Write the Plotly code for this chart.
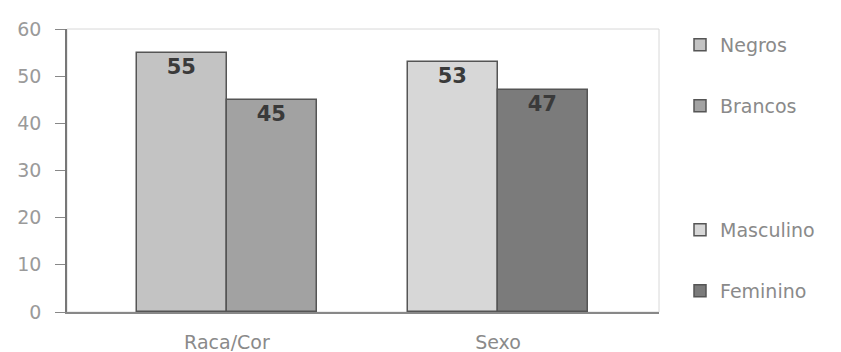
import plotly.graph_objects as go

categories = ["Raca/Cor", "Sexo"]
series_names = ["Negros", "Brancos", "Masculino", "Feminino"]
series_values = [55, 45, 53, 47]
series_category = ["Raca/Cor", "Raca/Cor", "Sexo", "Sexo"]
series_colors = ["#c3c3c3", "#a2a2a2", "#d7d7d7", "#7b7b7b"]
series_offset_side = [-1, 0, -1, 0]
y_ticks = [0, 10, 20, 30, 40, 50, 60]

BAR_W = 0.332
legend_centers_px = [45, 106, 230, 291]
legend_ids = ["legend", "legend2", "legend3", "legend4"]
FONT = "DejaVu Sans, Arial"

fig = go.Figure()
for i, name in enumerate(series_names):
    fig.add_trace(go.Bar(
        x=[categories.index(series_category[i])],
        y=[series_values[i]],
        name=name,
        width=BAR_W,
        offset=series_offset_side[i] * BAR_W,
        marker=dict(color=series_colors[i], line=dict(color="#555555", width=1.5)),
        text=[f"<b>{series_values[i]}</b>"],
        textposition="inside",
        insidetextanchor="end",
        textfont=dict(family=FONT, size=21, color="#3a3a3a"),
        legend=legend_ids[i],
        showlegend=True,
    ))

layout_legends = {}
for i, lid in enumerate(legend_ids):
    layout_legends[lid] = dict(
        xref="container", yref="container",
        x=680 / 841, y=1 - legend_centers_px[i] / 352,
        xanchor="left", yanchor="middle",
        bgcolor="rgba(0,0,0,0)",
        font=dict(family=FONT, size=19, color="#8a8a8a"),
    )

fig.update_layout(
    width=841, height=352,
    margin=dict(l=67, r=182, t=29, b=40, autoexpand=False),
    paper_bgcolor="white", plot_bgcolor="white",
    barmode="overlay",
    bargap=0,
    font=dict(family=FONT, color="#999999", size=19),
    xaxis=dict(
        tickmode="array", tickvals=[0, 1], ticktext=categories,
        range=[-0.59, 1.594], showgrid=False, zeroline=False,
        showline=True, linecolor="#888888", linewidth=1.5,
        ticks="", ticklabelstandoff=12, automargin=False,
        tickfont=dict(family=FONT, size=19, color="#8a8a8a"),
    ),
    yaxis=dict(
        range=[0, 60], tickvals=y_ticks, showgrid=False, zeroline=False,
        showline=True, linecolor="#777777", linewidth=1.5,
        ticks="outside", ticklen=10, tickcolor="#888888",
        ticklabelstandoff=10, automargin=False,
        tickfont=dict(family=FONT, size=19, color="#9a9a9a"),
    ),
    shapes=[dict(type="rect", xref="paper", yref="paper", x0=0, x1=1, y0=0, y1=1,
                 line=dict(color="#d8d8d8", width=1), layer="below")],
    **layout_legends,
)

fig.write_html("out.html")
